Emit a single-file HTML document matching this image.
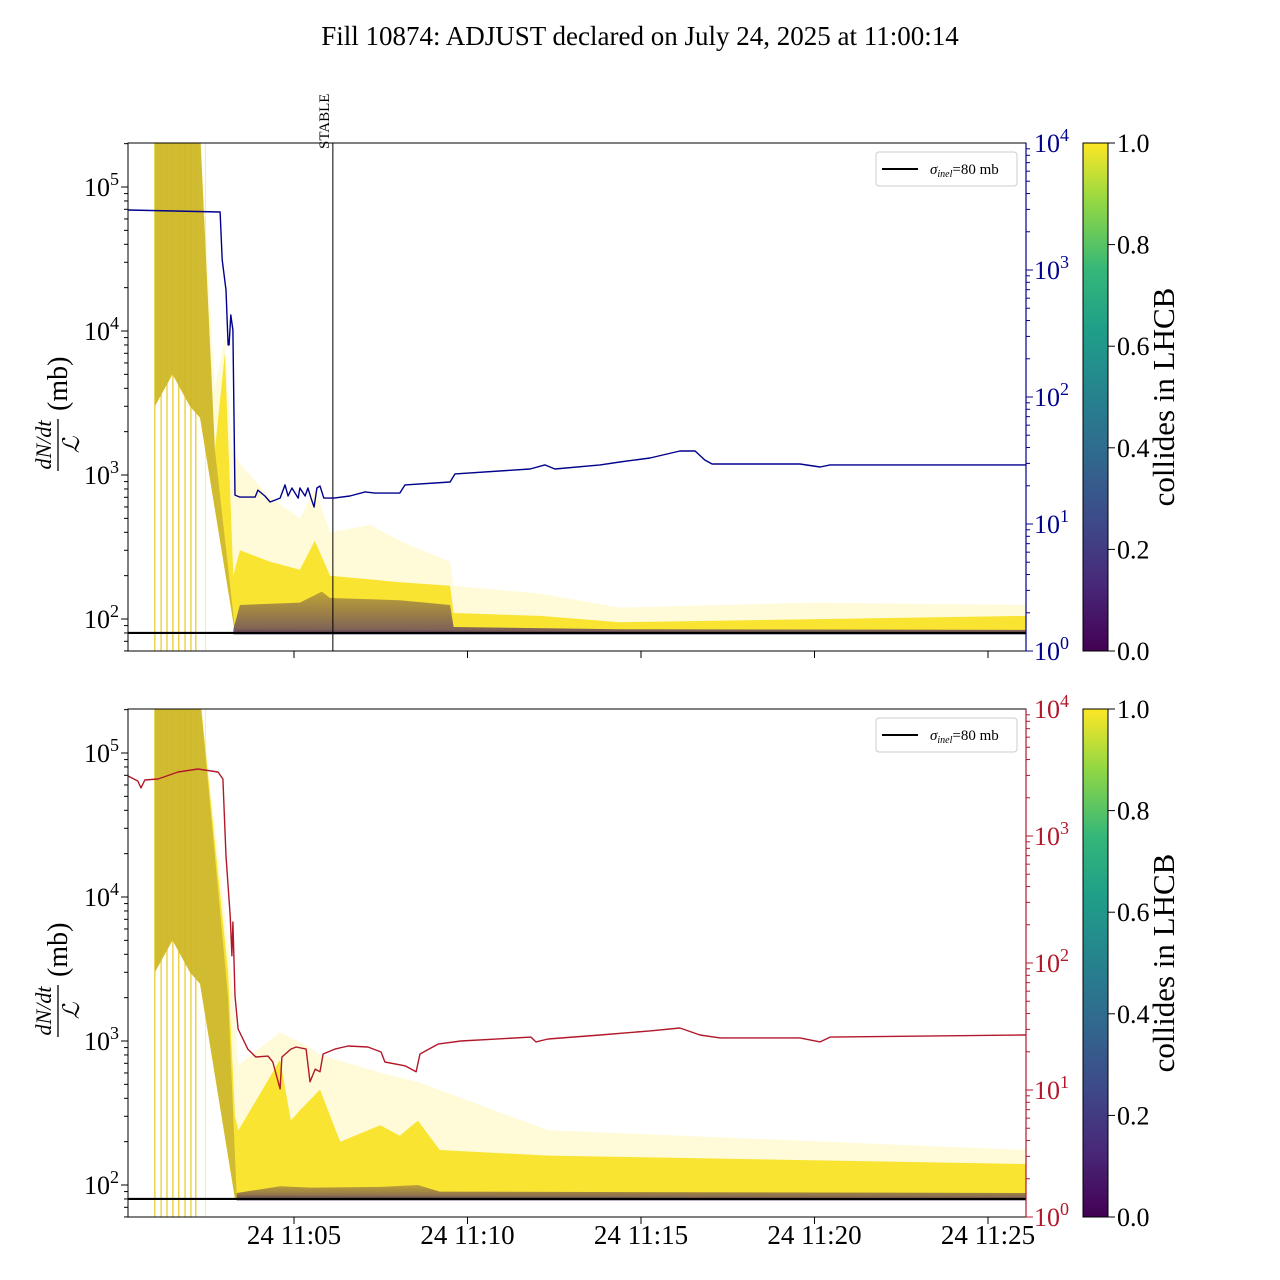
<!DOCTYPE html>
<html><head><meta charset="utf-8">
<style>
html,body{margin:0;padding:0;background:#fff;}
svg{display:block;font-family:"Liberation Serif",serif;}
</style></head>
<body>
<svg id="chart" width="1280" height="1280" viewBox="0 0 1280 1280" xmlns="http://www.w3.org/2000/svg">
<defs>
<linearGradient id="viridis" x1="0" y1="1" x2="0" y2="0">
<stop offset="0" stop-color="#440154"/><stop offset="0.13" stop-color="#482878"/><stop offset="0.25" stop-color="#3e4989"/><stop offset="0.38" stop-color="#31688e"/><stop offset="0.5" stop-color="#26828e"/><stop offset="0.63" stop-color="#1f9e89"/><stop offset="0.75" stop-color="#35b779"/><stop offset="0.88" stop-color="#8fd744"/><stop offset="1" stop-color="#fde725"/>
</linearGradient>
<linearGradient id="darkband" x1="0" y1="0" x2="0" y2="1">
<stop offset="0" stop-color="#8a6a3a" stop-opacity="0.55"/><stop offset="1" stop-color="#4a2a6a" stop-opacity="0.75"/>
</linearGradient>
<clipPath id="clipTop"><rect x="128" y="143" width="898" height="508"/></clipPath>
<clipPath id="clipBot"><rect x="128" y="709" width="898" height="508"/></clipPath>
</defs>
<text x="640" y="45" text-anchor="middle" font-size="27">Fill 10874: ADJUST declared on July 24, 2025 at 11:00:14</text>
<g id="panels"></g>
</svg>
<script>
// ---- data (time in minutes after 11:00) ----
const xTickLabels = ["24 11:05","24 11:10","24 11:15","24 11:20","24 11:25"];
const xTickTimes = [5,10,15,20,25];
const leftTickExps = [2,3,4,5];
const rightTickExps = [0,1,2,3,4];
const cbTicks = ["0.0","0.2","0.4","0.6","0.8","1.0"];
const sigmaInel = 80;
const stableTime = 6.12;
const spikeLineTimes = [0.99,1.17,1.34,1.51,1.68,1.86,2.03,2.17,2.45];

// lower edge of the early spike column (both panels)
const lowT = [0.99,1.5,2.0,2.29,3.3,26.1];
const lowV = [3000,5000,3000,2500,80,80];

// top panel bands
const topHiT = [0.99,2.29,2.72,3.01,3.21,3.44,4.31,5.17,5.6,6.04,7.19,8.05,9.5,9.6,12.09,14.39,20,26.1];
const topHiV = [2.5e5,2.5e5,4000,9000,1500,1200,700,500,800,400,450,350,250,170,150,120,130,125];
const topMidT = [0.99,2.29,2.72,3.01,3.25,3.44,4.31,5.17,5.6,6.04,8.05,9.5,9.6,12.09,14.39,26.1];
const topMidV = [2.5e5,2.5e5,1500,7000,200,300,250,220,350,200,180,170,110,105,95,105];
const topOliveT = [0.99,2.29,2.72,3.3];
const topOliveV = [2.5e5,2.5e5,1500,85];
const topDarkT = [3.25,3.44,5.17,5.8,6.04,8.05,9.5,9.6,14.39,26.1];
const topDarkV = [85,125,130,155,140,135,125,88,85,84];
// bottom panel bands
const botHiT = [0.99,2.29,3.1,3.3,3.4,4.6,5.46,5.75,7.62,8.57,12.32,26.1];
const botHiV = [2.5e5,2.5e5,4900,1500,680,1150,900,800,590,520,240,175];
const botMidT = [0.99,2.29,3.1,3.3,3.4,4.6,4.91,5.17,5.75,6.33,7.48,8.05,8.57,9.2,12.32,26.1];
const botMidV = [2.5e5,2.5e5,3000,300,240,740,280,330,460,200,260,220,280,175,160,140];
const botOliveT = [0.99,2.29,3.1,3.35];
const botOliveV = [2.5e5,2.5e5,2000,85];
const botDarkT = [3.35,4.6,5.5,7.5,8.57,9.2,26.1];
const botDarkV = [88,98,96,97,100,90,88];

// right-axis series
const blueT = [0.22,2.87,2.93,3.04,3.10,3.13,3.18,3.24,3.30,3.44,3.88,3.96,4.16,4.31,4.60,4.74,4.83,4.94,5.12,5.17,5.32,5.40,5.49,5.58,5.66,5.75,5.86,6.15,6.61,7.05,7.33,8.05,8.20,9.50,9.64,11.80,12.23,12.52,13.82,14.39,15.26,16.12,16.56,16.84,17.05,19.58,20.16,20.45,26.1];
const blueV = [2970,2860,1200,696,257,257,442,337,16.9,16.3,16.3,18.5,16.6,14.9,16.0,20.3,16.6,19.2,16.0,19.2,16.6,19.2,16.0,13.6,19.2,19.9,16.0,16.0,16.6,17.9,17.5,17.5,20.3,21.4,24.8,27.1,29.2,27.1,29.2,30.8,33.1,37.6,37.6,31.9,29.7,29.7,28.1,29.2,29.2];
const redT = [0.22,0.50,0.59,0.70,1.08,1.66,2.23,2.81,2.95,3.04,3.16,3.21,3.24,3.30,3.39,3.67,3.90,4.25,4.39,4.60,4.65,4.91,5.06,5.35,5.46,5.61,5.75,5.84,6.18,6.56,7.13,7.51,7.62,8.20,8.52,8.63,9.15,9.81,11.83,11.97,12.32,13.82,15.26,16.12,16.70,17.28,19.58,20.16,20.45,26.1];
const redV = [2970,2710,2390,2760,2810,3190,3370,3190,2810,696,234,114,210,55,30.2,21.0,18.2,18.5,16.6,10.2,18.2,21.0,21.8,21.0,11.6,14.6,13.9,19.2,21.0,22.2,21.8,19.9,16.6,15.5,13.9,19.2,23.0,24.3,26.1,23.9,25.2,27.1,29.2,30.8,27.1,25.7,25.7,23.9,26.1,27.1];

// ---- axes ----
const NS = "http://www.w3.org/2000/svg";
const X0 = 128, X1 = 1026;
function xT(t){ return 294 + (t-5)*34.7; }
function yLeft(v, off){ return 619 + off - 144*(Math.log10(v)-2); }
function yRight(v, off){ return 651 + off - 127*Math.log10(v); }
const panels = document.getElementById('panels');
function mk(tag, attrs, parent){
  const e = document.createElementNS(NS, tag);
  for (const k in attrs) e.setAttribute(k, attrs[k]);
  (parent||panels).appendChild(e);
  return e;
}
function pts(T, V, off){ return T.map((t,i)=>xT(t).toFixed(1)+","+yLeft(V[i],off).toFixed(1)); }
function bandPath(T, V, off, withLow){
  let up = pts(T,V,off);
  let lo;
  if (withLow){ lo = pts(lowT,lowV,off).reverse(); }
  else { lo = [xT(T[T.length-1]).toFixed(1)+","+yLeft(78,off).toFixed(1), xT(T[0]).toFixed(1)+","+yLeft(78,off).toFixed(1)]; }
  return "M" + up.join("L") + "L" + lo.join("L") + "Z";
}
function linePath(T, V, off){
  let d = "";
  T.forEach((t,i)=>{ d += (i?"L":"M") + xT(t).toFixed(1) + "," + yRight(V[i],off).toFixed(1); });
  return d;
}

function drawPanel(off, hiT, hiV, midT, midV, olT, olV, dkT, dkV, sT, sV, sColor, isBottom){
  const top = 143 + off, bot = 651 + off;
  const g = mk('g', {'clip-path': isBottom ? 'url(#clipBot)' : 'url(#clipTop)'});
  
  
  spikeLineTimes.forEach((t,i)=>{
    const l = mk('line', {x1:xT(t), x2:xT(t), y1:top, y2:bot, stroke: i===spikeLineTimes.length-1 ? '#f3ecc0' : '#e8c820', 'stroke-width':1.2}, g);
    
    
  });
  const b1 = mk('path', {d: bandPath(hiT,hiV,off,true), fill:'#fde725', 'fill-opacity':0.18}, g);
  
  
  const b2 = mk('path', {d: bandPath(midT,midV,off,true), fill:'#f8e224', 'fill-opacity':0.92}, g);
  
  
  const bo = mk('path', {d: bandPath(olT,olV,off,true), fill:'#a08a30', 'fill-opacity':0.45}, g);
  
  
  const b3 = mk('path', {d: bandPath(dkT,dkV,off,false), fill:'url(#darkband)'}, g);
  
  
  const sig = mk('line', {x1:X0, x2:X1, y1:yLeft(sigmaInel,off), y2:yLeft(sigmaInel,off), stroke:'#000', 'stroke-width':2.2}, g);
  
  
  if (!isBottom){
    const st = mk('line', {x1:xT(stableTime), x2:xT(stableTime), y1:top, y2:bot, stroke:'#000', 'stroke-width':1}, g);
    
    
  }
  const s = mk('path', {d: linePath(sT,sV,off), fill:'none', stroke:sColor, 'stroke-width':1.4, 'stroke-linejoin':'round'}, g);
  
  

  const fr = mk('rect', {x:X0, y:top, width:X1-X0, height:508, fill:'none', stroke:'#000', 'stroke-width':1});
  
  
  const ra = mk('line', {x1:X1, x2:X1, y1:top, y2:bot, stroke:sColor, 'stroke-width':1.2});
  
  

  for (let e = 1; e <= 5; e++){
    for (let m = 1; m <= 9; m++){
      const v = m*Math.pow(10,e);
      const y = yLeft(v,off);
      if (y < top-0.5 || y > bot+0.5) continue;
      const t = mk('line', {x1:X0, x2:X0-(m===1?7:4), y1:y, y2:y, stroke:'#000', 'stroke-width':1});
      
      
    }
  }
  leftTickExps.forEach(e=>{
    const y = yLeft(Math.pow(10,e),off);
    const tx = mk('text', {x:84, y:y+9, 'font-size':26});
    
    
    tx.innerHTML = '10<tspan dy="-11" font-size="18">' + e + '</tspan>';
  });
  for (let e = 0; e < 4; e++){
    for (let m = 1; m <= 9; m++){
      const y = yRight(m*Math.pow(10,e),off);
      const t = mk('line', {x1:X1, x2:X1+(m===1?7:4), y1:y, y2:y, stroke:sColor, 'stroke-width':1});
      
      
    }
  }
  rightTickExps.forEach(e=>{
    const y = yRight(Math.pow(10,e),off);
    const tx = mk('text', {x:1034, y:y+9, 'font-size':26, fill:sColor});
    
    
    tx.innerHTML = '10<tspan dy="-11" font-size="18">' + e + '</tspan>';
  });
  xTickTimes.forEach((t,i)=>{
    const x = xT(t);
    const tk = mk('line', {x1:x, x2:x, y1:bot, y2:bot+7, stroke:'#000', 'stroke-width':1});
    
    
    if (isBottom){
      const tx = mk('text', {x:x, y:bot+27, 'font-size':27, 'text-anchor':'middle'});
      
      
      tx.textContent = xTickLabels[i];
    }
  });
  const yl = mk('g', {transform:'translate(58,' + (397+off) + ') rotate(-90)'});
  
  
  const n = mk('text', {x:-48, y:-7, 'font-size':22, 'font-style':'italic', 'text-anchor':'middle'}, yl);
  n.textContent = 'dN/dt';
  mk('line', {x1:-74, x2:-22, y1:0, y2:0, stroke:'#000', 'stroke-width':1.3}, yl);
  const d = mk('text', {x:-48, y:21, 'font-size':23, 'font-style':'italic', 'text-anchor':'middle'}, yl);
  d.textContent = 'ℒ';
  const mb = mk('text', {x:-14, y:9, 'font-size':28}, yl);
  mb.textContent = '(mb)';
  const lg = mk('g', {});
  
  
  mk('rect', {x:876, y:152+off, width:141, height:34, rx:3, fill:'#fff', 'fill-opacity':0.85, stroke:'#ccc'}, lg);
  mk('line', {x1:882, x2:918, y1:169+off, y2:169+off, stroke:'#000', 'stroke-width':2}, lg);
  const lt = mk('text', {x:930, y:174+off, 'font-size':15}, lg);
  lt.innerHTML = '<tspan font-style="italic">σ</tspan><tspan font-style="italic" font-size="10" dy="3">inel</tspan><tspan dy="-3">=80 mb</tspan>';
  const cb = mk('rect', {x:1083, y:top, width:25, height:508, fill:'url(#viridis)', stroke:'#000', 'stroke-width':1});
  
  
  cbTicks.forEach((lab,i)=>{
    const y = bot - i*508/5;
    mk('line', {x1:1108, x2:1115, y1:y, y2:y, stroke:'#000'});
    const tx = mk('text', {x:1117, y:y+9, 'font-size':26});
    
    
    tx.textContent = lab;
  });
  const cl = mk('text', {x:0, y:0, 'font-size':31, 'text-anchor':'middle', transform:'translate(1174,' + (397+off) + ') rotate(-90)'});
  
  
  cl.textContent = 'collides in LHCB';
}

drawPanel(0, topHiT, topHiV, topMidT, topMidV, topOliveT, topOliveV, topDarkT, topDarkV, blueT, blueV, '#00008b', false);
drawPanel(566, botHiT, botHiV, botMidT, botMidV, botOliveT, botOliveV, botDarkT, botDarkV, redT, redV, '#b2182b', true);

const stl = mk('text', {x:0, y:0, 'font-size':15, transform:'translate(329,149) rotate(-90)'});


stl.textContent = 'STABLE';
</script>
</body></html>
